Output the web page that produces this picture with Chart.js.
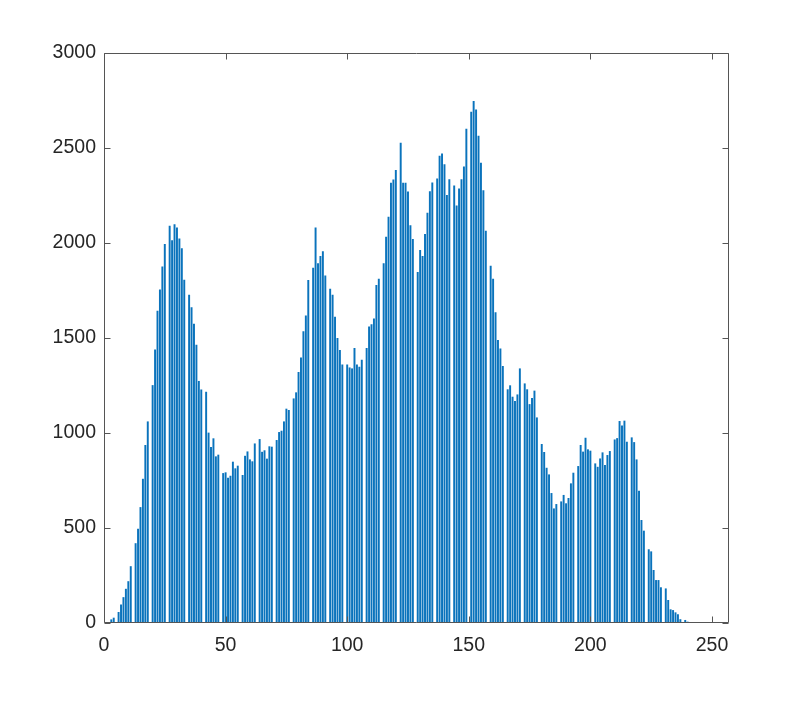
<!DOCTYPE html>
<html>
<head>
<meta charset="utf-8">
<script src="https://cdn.jsdelivr.net/npm/chart.js@4/dist/chart.umd.min.js"></script>
<style>
  html, body { margin: 0; padding: 0; background: #ffffff; }
  #wrap { width: 804px; height: 701px; }
</style>
</head>
<body>
<div id="wrap"><canvas id="c" width="804" height="701"></canvas></div>
<script>
// Histogram counts for intensity levels 0..255 (plotted at positions 1..256)
const counts = [
  0, 3, 19, 28, 0, 58, 98, 136, 180, 220, 299, 0, 420, 496, 610, 759,
  937, 1061, 0, 1252, 1439, 1643, 1755, 1876, 1995, 0, 2091, 2015, 2099, 2082, 2024, 1973,
  1806, 0, 1727, 1662, 1575, 1465, 1274, 1229, 0, 1217, 1002, 926, 972, 877, 886, 0,
  789, 793, 765, 775, 849, 814, 828, 0, 779, 880, 903, 861, 851, 945, 0, 968,
  901, 909, 865, 930, 928, 0, 963, 1005, 1012, 1061, 1128, 1121, 0, 1182, 1214, 1321,
  1398, 1535, 1619, 1805, 0, 1870, 2082, 1893, 1931, 1957, 1829, 0, 1759, 1728, 1612, 1500,
  1437, 1361, 0, 1361, 1345, 1340, 1447, 1361, 1349, 1386, 0, 1447, 1561, 1573, 1603, 1779,
  1812, 0, 1893, 2033, 2138, 2317, 2334, 2384, 0, 2527, 2317, 2317, 2271, 2094, 2021, 0,
  1847, 1963, 1931, 2047, 2159, 2273, 2319, 0, 2340, 2459, 2471, 2415, 2252, 2335, 0, 2303,
  2198, 2287, 2335, 2403, 2601, 0, 2691, 2747, 2703, 2564, 2422, 2278, 2064, 0, 1880, 1812,
  1635, 1490, 1445, 1352, 0, 1230, 1251, 1191, 1168, 1203, 1340, 0, 1261, 1230, 1152, 1184,
  1223, 1082, 0, 942, 900, 817, 782, 684, 603, 626, 0, 640, 674, 630, 658, 735, 791, 0,
  826, 937, 902, 975, 914, 907, 0, 840, 822, 866, 898, 831, 884, 905, 0, 966, 973, 1063,
  1040, 1065, 954, 0, 977, 952, 861, 696, 542, 486, 0, 388, 377, 279, 226, 226, 188, 0,
  182, 121, 72, 68, 56, 46, 20, 0, 16, 7, 5, 4, 4, 2, 0, 2,
  1, 1, 1, 1, 1, 0, 0, 0, 0, 0, 0, 0, 0, 0, 0, 0
];
// Bar positions (1-based bin index, as in the original plot)
const binPositions = counts.map((_, i) => i + 1);
const xTicks = [0, 50, 100, 150, 200, 250];
const yTicks = [0, 500, 1000, 1500, 2000, 2500, 3000];

const AXIS_COLOR = '#262626';
const FRAME_COLOR = '#555555';
const FONT = { family: 'Liberation Sans, Arial, Helvetica, sans-serif', size: 19.5 };

const framePlugin = {
  id: 'frame',
  afterDraw(chart) {
    const { ctx, chartArea: a, scales } = chart;
    const L = Math.round(a.left) + 0.5, R = Math.round(a.right) - 0.5;
    const T = Math.round(a.top) + 0.5, B = Math.round(a.bottom) - 0.5;
    const tl = 6;
    ctx.save();
    ctx.strokeStyle = FRAME_COLOR;
    ctx.lineWidth = 1;
    ctx.beginPath();
    ctx.rect(L, T, R - L, B - T);
    ctx.stroke();
    ctx.beginPath();
    xTicks.forEach(v => {
      const px = Math.round(scales.x.getPixelForValue(v)) + 0.5;
      ctx.moveTo(px, B); ctx.lineTo(px, B - tl);
      ctx.moveTo(px, T); ctx.lineTo(px, T + tl);
    });
    yTicks.forEach(v => {
      const py = Math.round(scales.y.getPixelForValue(v)) + 0.5;
      ctx.moveTo(L, py); ctx.lineTo(L + tl, py);
      ctx.moveTo(R, py); ctx.lineTo(R - tl, py);
    });
    ctx.stroke();
    ctx.restore();
  }
};

new Chart(document.getElementById('c'), {
  type: 'bar',
  data: {
    datasets: [{
      data: counts.map((c, i) => ({ x: binPositions[i], y: c })),
      backgroundColor: '#0a73bc',
      borderWidth: 0,
      barPercentage: 0.8,
      categoryPercentage: 1.0
    }]
  },
  options: {
    responsive: false,
    animation: false,
    layout: { padding: { top: 53, right: 75, bottom: 0, left: 0 } },
    plugins: { legend: { display: false }, tooltip: { enabled: false } },
    scales: {
      x: {
        type: 'linear',
        offset: false,
        min: 0,
        max: 257,
        bounds: 'ticks',
        afterFit(s) { s.height = 78; },
        afterBuildTicks(s) { s.ticks = xTicks.map(v => ({ value: v })); },
        grid: { display: false, drawTicks: false, offset: false },
        border: { display: false },
        ticks: { color: AXIS_COLOR, font: FONT, padding: 11, maxRotation: 0, autoSkip: false,
                 callback: v => String(v) }
      },
      y: {
        min: 0,
        max: 3000,
        afterFit(s) { s.width = 104; },
        afterBuildTicks(s) { s.ticks = yTicks.map(v => ({ value: v })); },
        grid: { display: false, drawTicks: false },
        border: { display: false },
        ticks: { color: AXIS_COLOR, font: FONT, padding: 8, callback: v => String(v) }
      }
    }
  },
  plugins: [framePlugin]
});
</script>
</body>
</html>
